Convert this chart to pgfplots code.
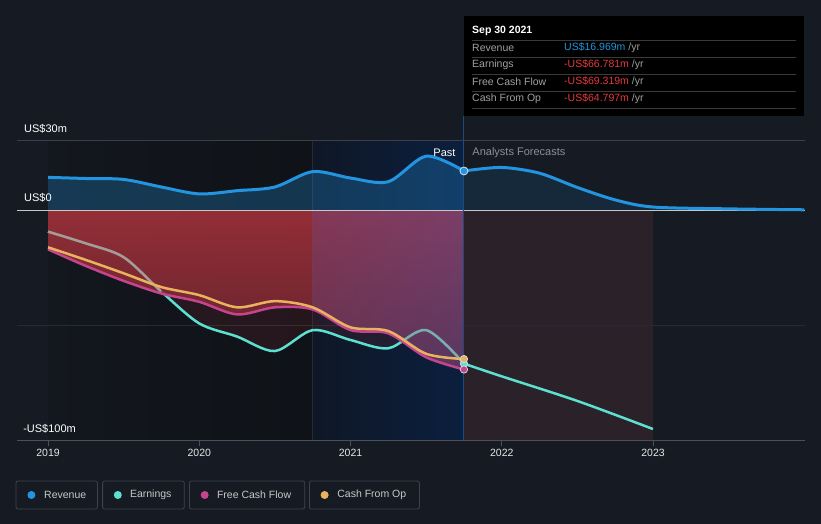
\documentclass[border=0pt]{standalone}
\usepackage{pgfplots}
\pgfplotsset{compat=1.18}
\usepackage{pgfplotstable}
\usepackage{fontspec}
\setmainfont{Liberation Sans}

\definecolor{bg}{HTML}{151A23}
\definecolor{pastL}{HTML}{13171E}
\definecolor{pastR}{HTML}{0F1217}
\definecolor{hlL}{HTML}{0F1726}
\definecolor{hlR}{HTML}{0B1F3E}
\definecolor{fcred}{HTML}{2B2128}
\definecolor{revc}{HTML}{2394DF}
\definecolor{earnc}{HTML}{5CE1D0}
\definecolor{fcfc}{HTML}{C4448E}
\definecolor{cfoc}{HTML}{E9B25F}
\definecolor{redT}{HTML}{A3313A}
\definecolor{redB}{HTML}{6A2530}
\definecolor{gridc}{HTML}{3A3F48}
\definecolor{gridd}{HTML}{262B33}
\definecolor{zeroc}{HTML}{C8C8C8}
\definecolor{axisc}{HTML}{4A505A}
\definecolor{tickc}{HTML}{E6E6E6}
\definecolor{earngray}{HTML}{A39C98}
\definecolor{earngray2}{HTML}{78AEB0}
\definecolor{vlinec}{HTML}{1D4A80}
\definecolor{lblc}{HTML}{A0A0A0}
\definecolor{negc}{HTML}{E5393F}
\definecolor{sepc}{HTML}{3A3A3A}
\definecolor{legbox}{HTML}{3D434C}
\definecolor{legtext}{HTML}{C8C8C8}
\definecolor{fcgray}{HTML}{8A8F98}
\definecolor{markedge}{HTML}{D8DEE6}
\definecolor{tintR}{HTML}{4A60C8}

\pgfplotstableread{
x y
2019.0 14.2
2019.25 13.7
2019.5 13.3
2019.75 10.0
2020.0 7.0
2020.25 8.4
2020.5 10.0
2020.75 16.7
2021.0 13.9
2021.25 12.3
2021.5 23.4
2021.75 16.969
}\revpast
\pgfplotstableread{
x y
2021.75 16.969
2022.0 18.5
2022.25 16.0
2022.5 9.8
2022.75 4.4
2023.0 1.3
2023.5 0.5
2024.0 0.1
}\revfc
\pgfplotstableread{
x y
2019.0 -9.4
2019.25 -14.5
2019.5 -20.5
2019.75 -35.5
2020.0 -49.3
2020.25 -55.0
2020.5 -61.3
2020.75 -52.2
2021.0 -56.5
2021.25 -60.1
2021.5 -52.2
2021.75 -66.781
}\earnpast
\pgfplotstableread{
x y
2021.75 -66.781
2022.0 -72.3
2022.5 -83.0
2023.0 -95.2
}\earnfc
\pgfplotstableread{
x y
2019.0 -16.2
2019.25 -21.7
2019.5 -27.5
2019.75 -33.5
2020.0 -37.0
2020.25 -42.3
2020.5 -39.6
2020.75 -42.3
2021.0 -51.0
2021.25 -52.6
2021.5 -62.5
2021.75 -64.797
}\cfo
\pgfplotstableread{
x y
2019.0 -17.1
2019.25 -24.3
2019.5 -30.8
2019.75 -36.3
2020.0 -39.9
2020.25 -45.4
2020.5 -42.3
2020.75 -43.2
2021.0 -52.2
2021.25 -53.6
2021.5 -64.0
2021.75 -69.319
}\fcf

\begin{document}
\begin{tikzpicture}
\fill[bg] (0pt,0pt) rectangle (821pt,524pt);
\begin{axis}[
  at={(17pt,83pt)}, anchor=south west,
  scale only axis, width=788pt, height=300pt,
  xmin=2018.795, xmax=2024.005, ymin=-100.4, ymax=30,
  axis x line=bottom, axis y line=none,
  axis line style={draw=axisc, line width=1pt, -},
  xtick={2019,2020,2021,2022,2023},
  xticklabels={2019,2020,2021,2022,2023},
  xtick align=outside, major tick length=5pt,
  tick style={draw=axisc, line width=0.8pt},
  xticklabel style={font=\fontsize{10.5}{12}\selectfont, text=tickc},
  /pgf/number format/assume math mode=true,
  ytick=\empty,
  clip=false, axis on top,
]
% background regions
\addplot[draw=none, left color=pastL, right color=pastR] coordinates {(2019,-100.3)(2019,30)(2020.75,30)(2020.75,-100.3)} -- cycle;
\addplot[draw=none, left color=hlL, right color=hlR] coordinates {(2020.75,-100.3)(2020.75,30)(2021.75,30)(2021.75,-100.3)} -- cycle;
\addplot[draw=none, fill=fcred] coordinates {(2021.75,-100.3)(2021.75,0)(2023,0)(2023,-100.3)} -- cycle;
\addplot[gridd, line width=0.4pt] coordinates {(2020.75,-100.3)(2020.75,30)};
% grid lines
\addplot[gridc, line width=1pt] coordinates {(2018.795,30)(2024.005,30)};
\addplot[gridd, line width=1pt] coordinates {(2018.795,-50)(2024.005,-50)};
% revenue fills
\addplot[draw=none, fill=revc, fill opacity=0.28, smooth] table {\revpast} \closedcycle;
\addplot[draw=none, fill=revc, fill opacity=0.13, smooth] table {\revfc} \closedcycle;
% dim red fill to earnings
\addplot[draw=none, fill=redT, fill opacity=0.15, smooth] table {\earnpast} \closedcycle;
% earnings line
\addplot[earnc, line width=2.5pt, smooth] table {\earnpast};
\addplot[earnc, line width=2.5pt, smooth] table {\earnfc};
% red fill to FCF
\addplot[draw=none, smooth, top color=redT, bottom color=redB, fill opacity=0.88] table {\fcf} \closedcycle;
% bluish tint of the red fill within the last-year highlight
\begin{scope}
\clip (axis cs:2020.75,-100) rectangle (axis cs:2021.75,30);
\addplot[draw=none, smooth, left color=redT, right color=tintR, fill opacity=0.32] table {\fcf} \closedcycle;
\end{scope}
% gray parts of earnings
\begin{scope}
\clip (axis cs:2018.9,-100) rectangle (axis cs:2019.75,30);
\addplot[earngray, line width=2.5pt, smooth] table {\earnpast};
\end{scope}
\begin{scope}
\clip (axis cs:2021.33,-100) rectangle (axis cs:2021.75,30);
\addplot[earngray2, line width=2.5pt, smooth] table {\earnpast};
\end{scope}
% FCF and CFO
\addplot[fcfc, line width=2.5pt, smooth] table {\fcf};
\addplot[cfoc, line width=2.5pt, smooth] table {\cfo};
% zero line
\addplot[zeroc, line width=1pt] coordinates {(2018.795,0)(2024.005,0)};
% revenue line
\addplot[revc, line width=3pt, smooth] table {\revpast};
\addplot[revc, line width=3pt, smooth] table {\revfc};
% vertical line
\addplot[vlinec, line width=1pt] coordinates {(2021.75,-100.4)(2021.75,40.9)};
% markers
\addplot[only marks, mark=*, mark size=3.7pt, mark options={fill=earnc, draw=markedge, line width=0.7pt}] coordinates {(2021.75,-66.781)};
\addplot[only marks, mark=*, mark size=3.7pt, mark options={fill=fcfc, draw=markedge, line width=0.7pt}] coordinates {(2021.75,-69.319)};
\addplot[only marks, mark=*, mark size=3.7pt, mark options={fill=cfoc, draw=markedge, line width=0.7pt}] coordinates {(2021.75,-64.797)};
\addplot[only marks, mark=*, mark size=4pt, mark options={fill=revc, draw=markedge, line width=0.8pt}] coordinates {(2021.75,16.969)};
% texts
\node[anchor=east, text=white, font=\fontsize{11}{13}\selectfont, inner sep=0pt] at (axis cs:2021.695,24.8) {Past};
\node[anchor=west, text=fcgray, font=\fontsize{11}{13}\selectfont, inner sep=0pt] at (axis cs:2021.805,24.8) {Analysts Forecasts};
\node[anchor=west, text=white, font=\fontsize{11}{13}\selectfont, inner sep=0pt] at (axis cs:2018.841,35.2) {US\$30m};
\node[anchor=west, text=white, font=\fontsize{11}{13}\selectfont, inner sep=0pt] at (axis cs:2018.841,5.2) {US\$0};
\node[anchor=west, text=white, font=\fontsize{11}{13}\selectfont, inner sep=0pt] at (axis cs:2018.835,-95.2) {-US\$100m};
\end{axis}
\begin{scope}[x=1pt,y=1pt]
% tooltip
\fill[black] (464,408) rectangle (804,508);
\node[anchor=west, text=white, font=\bfseries\fontsize{10.5}{12}\selectfont, inner sep=0pt] at (472,493) {Sep 30 2021};
\foreach \yy in {484,467,450,433,416} { \draw[sepc, line width=0.8pt] (472,\yy) -- (796,\yy); }
\begin{scope}[every node/.style={anchor=west, inner sep=0pt, font=\fontsize{10.5}{12}\selectfont}]
\node[text=lblc] at (472,476) {Revenue};
\node[text=lblc] at (472,459) {Earnings};
\node[text=lblc] at (472,442) {Free Cash Flow};
\node[text=lblc] at (472,425) {Cash From Op};
\node at (564,476) {\textcolor{revc}{US\$16.969m} \textcolor{lblc}{/yr}};
\node at (564,459) {\textcolor{negc}{-US\$66.781m} \textcolor{lblc}{/yr}};
\node at (564,442) {\textcolor{negc}{-US\$69.319m} \textcolor{lblc}{/yr}};
\node at (564,425) {\textcolor{negc}{-US\$64.797m} \textcolor{lblc}{/yr}};
\end{scope}
% legend
\begin{scope}[every node/.style={anchor=west, inner sep=0pt, text=legtext, font=\fontsize{10.5}{12}\selectfont}]
\draw[legbox, line width=0.8pt, rounded corners=2pt] (16,15) rectangle (97.4,43);
\fill[revc] (31.4,29) circle (4pt);
\node at (44,29) {Revenue};
\draw[legbox, line width=0.8pt, rounded corners=2pt] (102.6,15) rectangle (184.3,43);
\fill[earnc] (117.8,29) circle (4pt);
\node at (129.8,29) {Earnings};
\draw[legbox, line width=0.8pt, rounded corners=2pt] (189.5,15) rectangle (304.7,43);
\fill[fcfc] (204.7,29) circle (4pt);
\node at (216.8,29) {Free Cash Flow};
\draw[legbox, line width=0.8pt, rounded corners=2pt] (309.4,15) rectangle (419.4,43);
\fill[cfoc] (324.6,29) circle (4pt);
\node at (337.2,29) {Cash From Op};
\end{scope}
\end{scope}
\end{tikzpicture}
\end{document}
